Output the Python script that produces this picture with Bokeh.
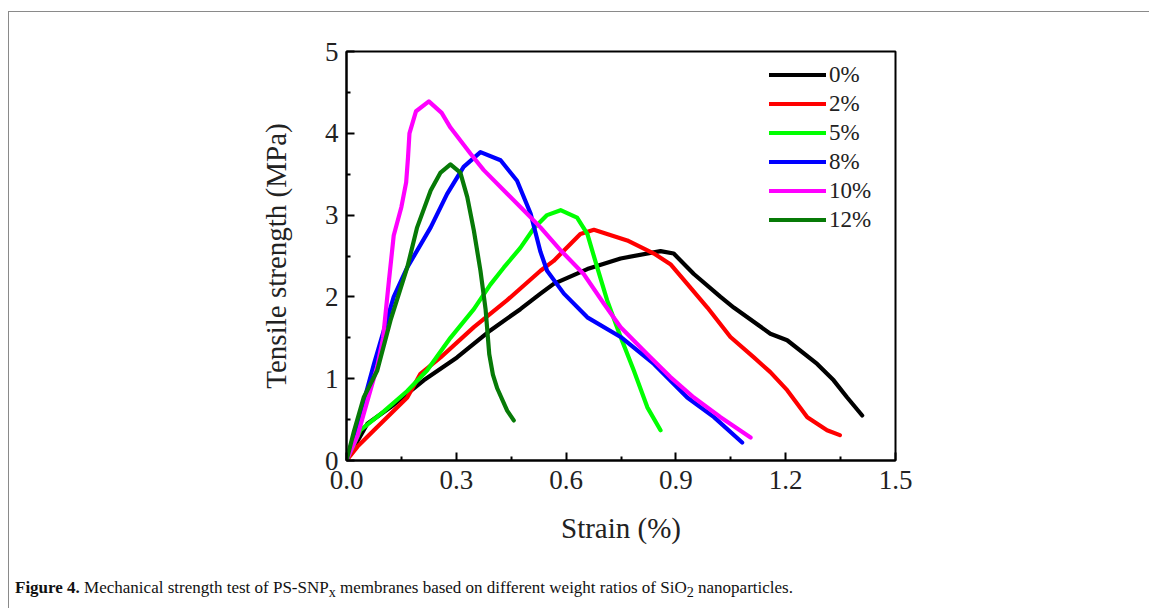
from bokeh.plotting import figure
from bokeh.models import Legend, LegendItem, Range1d, FixedTicker, Div
from bokeh.layouts import column
from bokeh.embed import file_html
from bokeh.resources import INLINE

# ---------------- data ----------------
series_labels = ["0%", "2%", "5%", "8%", "10%", "12%"]
series_colors = ["#000000", "#ff0000", "#00ff00", "#0000ff", "#ff00ff", "#077a07"]

strain_0 = [0, 0.02, 0.057, 0.12, 0.211, 0.302, 0.393, 0.475, 0.53, 0.566, 0.658,
            0.749, 0.858, 0.894, 0.949, 1.022, 1.058, 1.158, 1.204, 1.286, 1.331,
            1.368, 1.409]
stress_0 = [0, 0.16, 0.45, 0.65, 0.98, 1.26, 1.59, 1.85, 2.04, 2.16, 2.34,
            2.47, 2.56, 2.53, 2.28, 2.0, 1.87, 1.55, 1.47, 1.18, 0.98,
            0.77, 0.55]

strain_2 = [0, 0.03, 0.075, 0.166, 0.202, 0.257, 0.348, 0.439, 0.53, 0.566, 0.639,
            0.676, 0.767, 0.84, 0.885, 0.931, 0.986, 1.049, 1.113, 1.158, 1.204,
            1.259, 1.313, 1.348]
stress_2 = [0, 0.17, 0.37, 0.77, 1.06, 1.26, 1.63, 1.96, 2.32, 2.44, 2.77,
            2.82, 2.69, 2.53, 2.40, 2.16, 1.87, 1.51, 1.26, 1.08, 0.86,
            0.53, 0.37, 0.31]

strain_5 = [0, 0.038, 0.102, 0.166, 0.22, 0.284, 0.348, 0.393, 0.43, 0.475, 0.512,
            0.548, 0.585, 0.63, 0.658, 0.685, 0.712, 0.749, 0.785, 0.822, 0.858]
stress_5 = [0, 0.37, 0.6, 0.85, 1.1, 1.5, 1.85, 2.15, 2.36, 2.6, 2.84,
            3.0, 3.06, 2.97, 2.77, 2.36, 1.96, 1.51, 1.10, 0.65, 0.37]

strain_8 = [0, 0.038, 0.075, 0.102, 0.129, 0.166, 0.23, 0.275, 0.32, 0.366, 0.421,
            0.466, 0.503, 0.53, 0.548, 0.594, 0.658, 0.749, 0.84, 0.931, 1.004,
            1.081]
stress_8 = [0, 0.57, 1.18, 1.59, 2.0, 2.36, 2.85, 3.26, 3.59, 3.77, 3.67,
            3.42, 3.02, 2.55, 2.32, 2.04, 1.75, 1.51, 1.18, 0.77, 0.53,
            0.22]

strain_10 = [0, 0.03, 0.047, 0.084, 0.1, 0.116, 0.129, 0.15, 0.163, 0.168, 0.172,
             0.19, 0.225, 0.26, 0.284, 0.339, 0.375, 0.439, 0.484, 0.53, 0.585,
             0.648, 0.703, 0.749, 0.822, 0.885, 0.949, 1.022, 1.104]
stress_10 = [0, 0.3, 0.57, 1.15, 1.5, 2.2, 2.75, 3.1, 3.4, 3.7, 4.0,
             4.27, 4.39, 4.25, 4.07, 3.75, 3.55, 3.26, 3.06, 2.85, 2.57,
             2.28, 1.92, 1.63, 1.30, 1.02, 0.77, 0.53, 0.28]

strain_12 = [0, 0.02, 0.047, 0.084, 0.12, 0.166, 0.193, 0.23, 0.257, 0.284, 0.311,
             0.33, 0.348, 0.366, 0.38, 0.39, 0.40, 0.412, 0.439, 0.457]
stress_12 = [0, 0.35, 0.77, 1.10, 1.71, 2.36, 2.85, 3.3, 3.52, 3.62, 3.52,
             3.22, 2.81, 2.32, 1.85, 1.3, 1.05, 0.88, 0.61, 0.49]

strains = [strain_0, strain_2, strain_5, strain_8, strain_10, strain_12]
stresses = [stress_0, stress_2, stress_5, stress_8, stress_10, stress_12]

x_ticks = [0.0, 0.3, 0.6, 0.9, 1.2, 1.5]
x_tick_labels = ["0.0", "0.3", "0.6", "0.9", "1.2", "1.5"]
x_minor = [0.15, 0.45, 0.75, 1.05, 1.35]
y_ticks = [0, 1, 2, 3, 4, 5]
y_tick_labels = ["0", "1", "2", "3", "4", "5"]
y_minor = [0.5, 1.5, 2.5, 3.5, 4.5]

x_title = "Strain (%)"
y_title = "Tensile strength (MPa)"
caption_html = ("<b>Figure 4.</b> Mechanical strength test of PS-SNP<sub>x</sub> "
                "membranes based on different weight ratios of SiO<sub>2</sub> "
                "nanoparticles.")

# ---------------- figure ----------------
SERIF = "Liberation Serif"
W, H = 1140, 545
LEFT, TOP, FW, FH = 337, 39, 549, 409

p = figure(width=W, height=H, output_backend="svg", toolbar_location=None,
           x_range=Range1d(0, 1.5), y_range=Range1d(0, 5),
           min_border_left=LEFT, min_border_right=W - LEFT - FW,
           min_border_top=TOP, min_border_bottom=H - TOP - FH)
p.xgrid.visible = False
p.ygrid.visible = False
p.background_fill_color = "white"
p.border_fill_color = "white"
p.outline_line_color = "black"
p.outline_line_width = 2

for ax in (p.xaxis[0], p.yaxis[0]):
    ax.axis_line_width = 2
    ax.major_tick_line_width = 2
    ax.minor_tick_line_width = 2
    ax.major_tick_in = 8
    ax.major_tick_out = 0
    ax.minor_tick_in = 4
    ax.minor_tick_out = 0
    ax.major_label_text_font = SERIF
    ax.major_label_text_font_size = "27px"
    ax.major_label_text_color = "#222222"
    ax.axis_label_text_font = SERIF
    ax.axis_label_text_font_size = "29px"
    ax.axis_label_text_font_style = "normal"
    ax.axis_label_text_color = "#222222"

p.xaxis.ticker = FixedTicker(ticks=x_ticks, minor_ticks=x_minor)
p.yaxis.ticker = FixedTicker(ticks=y_ticks, minor_ticks=y_minor)
p.xaxis.major_label_overrides = dict(zip(x_ticks, x_tick_labels))
p.yaxis.major_label_overrides = dict(zip(y_ticks, y_tick_labels))
p.xaxis.axis_label = x_title
p.yaxis.axis_label = y_title
p.xaxis.major_label_standoff = 10
p.yaxis.major_label_standoff = 8
p.xaxis.axis_label_standoff = 20
p.yaxis.axis_label_standoff = 30

items = []
for lab, col, xs, ys in zip(series_labels, series_colors, strains, stresses):
    r = p.line(xs, ys, line_color=col, line_width=4.2, line_join="round",
               line_cap="round")
    items.append(LegendItem(label=lab, renderers=[r]))

legend = Legend(items=items, location=(423, 226), orientation="vertical",
                label_text_font=SERIF, label_text_font_size="23px",
                label_text_color="#222222",
                glyph_width=57, glyph_height=29, label_height=29, spacing=0,
                padding=0, margin=0, label_standoff=3,
                background_fill_alpha=0, border_line_alpha=0)
p.add_layout(legend, "center")

caption = Div(text=caption_html, width=1000, height=30, margin=(21, 0, 0, 6),
              styles={"font-family": "'Liberation Serif', serif",
                      "font-size": "17px", "color": "#111111",
                      "line-height": "20px", "white-space": "nowrap"})

layout = column(p, caption,
                styles={"border-left": "1.5px solid #8a8a8a",
                        "border-top": "1.5px solid #8a8a8a",
                        "margin-left": "8px", "margin-top": "11px",
                        "background": "white"})

open("out.html", "w").write(file_html(layout, INLINE))
